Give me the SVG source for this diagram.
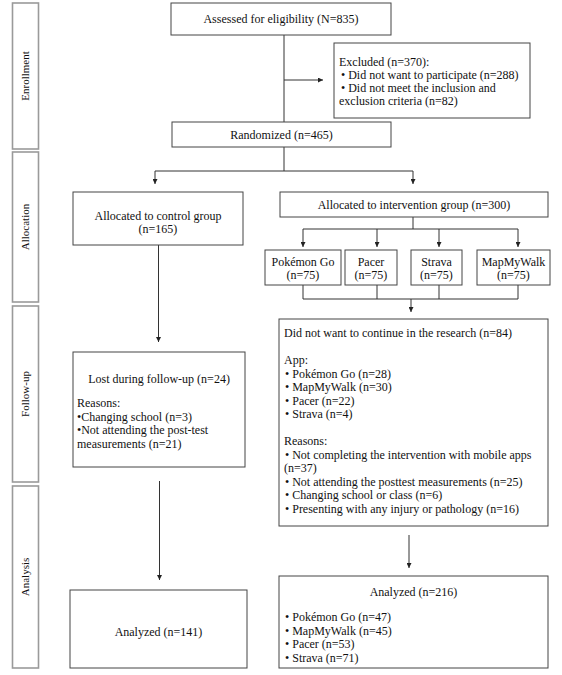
<svg xmlns="http://www.w3.org/2000/svg" width="562" height="675" viewBox="0 0 562 675">
<defs>
<marker id="ah" markerUnits="userSpaceOnUse" markerWidth="6" markerHeight="5" refX="5" refY="2.5" orient="auto">
<path d="M0,0 L5,2.5 L0,5 z" fill="#222"/>
</marker>
<style>
.box{fill:#fff;stroke:#444;stroke-width:1}
.side{fill:#fff;stroke:#9a9a9a;stroke-width:1.6}
.t{font-family:"Liberation Serif","Times New Roman",serif;font-size:12px;fill:#111}
.c{text-anchor:middle}
.s{font-family:"Liberation Serif","Times New Roman",serif;font-size:11px;fill:#111;text-anchor:middle}
.ln{fill:none;stroke:#333;stroke-width:1}
.ar{fill:none;stroke:#333;stroke-width:1;marker-end:url(#ah)}
</style>
</defs>
<rect width="562" height="675" fill="#fff"/>

<g id="stage-enrollment"><rect class="side" x="12.5" y="3" width="26" height="146"/><text class="s" transform="translate(29,76) rotate(-90)">Enrollment</text></g>
<g id="stage-allocation"><rect class="side" x="12.5" y="152" width="26" height="150"/><text class="s" transform="translate(29,227) rotate(-90)">Allocation</text></g>
<g id="stage-followup"><rect class="side" x="12.5" y="306" width="26" height="176"/><text class="s" transform="translate(29,394) rotate(-90)">Follow-up</text></g>
<g id="stage-analysis"><rect class="side" x="12.5" y="486" width="26" height="182"/><text class="s" transform="translate(29,577) rotate(-90)">Analysis</text></g>

<g id="connectors">
<path class="ln" d="M284,35 V122"/>
<path class="ar" d="M284,80 H323"/>
<path class="ln" d="M284,147 V171 M155,171 H413"/>
<path class="ar" d="M155,171 V184"/>
<path class="ar" d="M413,171 V184"/>
<path class="ln" d="M413,217 V229 M303,229 H518"/>
<path class="ar" d="M303,229 V247"/>
<path class="ar" d="M377,229 V247"/>
<path class="ar" d="M439,229 V247"/>
<path class="ar" d="M518,229 V247"/>
<path class="ln" d="M303,285 V299 M377,285 V299 M439,285 V299 M518,285 V299 M303,299 H518"/>
<path class="ar" d="M411,299 V312"/>
<path class="ar" d="M158.5,245 V342"/>
<path class="ar" d="M159.5,481 V580"/>
<path class="ar" d="M409,535 V568"/>
</g>

<g id="assessed"><rect class="box" x="171" y="3" width="220" height="32"/><text class="t c" x="281" y="23">Assessed for eligibility (N=835)</text></g>

<g id="excluded"><rect class="box" x="334" y="43" width="196" height="75"/>
<text class="t" x="339" y="65.5">Excluded (n=370):</text>
<text class="t" x="341" y="78.5">• Did not want to participate (n=288)</text>
<text class="t" x="341" y="91.5">• Did not meet the inclusion and</text>
<text class="t" x="339" y="104.5">exclusion criteria (n=82)</text></g>

<g id="randomized"><rect class="box" x="172" y="122" width="219" height="25"/><text class="t c" x="281.5" y="139">Randomized (n=465)</text></g>

<g id="control"><rect class="box" x="73" y="192" width="170" height="53"/>
<text class="t c" x="158" y="220">Allocated to control group</text>
<text class="t c" x="158" y="233">(n=165)</text></g>

<g id="intervention"><rect class="box" x="280" y="192" width="268" height="25"/><text class="t c" x="414" y="208.5">Allocated to intervention group (n=300)</text></g>

<g id="pokemon"><rect class="box" x="265" y="250" width="76" height="35"/><text class="t c" x="303" y="265.5">Pokémon Go</text><text class="t c" x="303" y="278.5">(n=75)</text></g>
<g id="pacer"><rect class="box" x="345" y="250" width="52" height="35"/><text class="t c" x="371" y="265.5">Pacer</text><text class="t c" x="371" y="278.5">(n=75)</text></g>
<g id="strava"><rect class="box" x="411" y="250" width="51" height="35"/><text class="t c" x="436.5" y="265.5">Strava</text><text class="t c" x="436.5" y="278.5">(n=75)</text></g>
<g id="mapmywalk"><rect class="box" x="477" y="250" width="73" height="35"/><text class="t c" x="513.5" y="265.5">MapMyWalk</text><text class="t c" x="513.5" y="278.5">(n=75)</text></g>

<g id="lost"><rect class="box" x="73" y="352" width="172" height="115"/>
<text class="t c" x="159" y="383">Lost during follow-up (n=24)</text>
<text class="t" x="77" y="407">Reasons:</text>
<text class="t" x="77" y="420.5">•Changing school (n=3)</text>
<text class="t" x="77" y="434">•Not attending the post-test</text>
<text class="t" x="77" y="447.5">measurements (n=21)</text></g>

<g id="discontinued"><rect class="box" x="279" y="319" width="269" height="207"/>
<text class="t" x="284" y="337">Did not want to continue in the research (n=84)</text>
<text class="t" x="284" y="364">App:</text>
<text class="t" x="285" y="377.5">• Pokémon Go (n=28)</text>
<text class="t" x="285" y="391">• MapMyWalk (n=30)</text>
<text class="t" x="285" y="404.5">• Pacer (n=22)</text>
<text class="t" x="285" y="418">• Strava (n=4)</text>
<text class="t" x="284" y="445">Reasons:</text>
<text class="t" x="285" y="458.5">• Not completing the intervention with mobile apps</text>
<text class="t" x="284" y="472">(n=37)</text>
<text class="t" x="285" y="485.5">• Not attending the posttest measurements (n=25)</text>
<text class="t" x="285" y="499">• Changing school or class (n=6)</text>
<text class="t" x="285" y="512.5">• Presenting with any injury or pathology (n=16)</text></g>

<g id="analyzed-control"><rect class="box" x="70" y="590" width="177" height="78"/><text class="t c" x="158.5" y="636">Analyzed (n=141)</text></g>

<g id="analyzed-intervention"><rect class="box" x="279" y="576" width="269" height="92"/>
<text class="t c" x="413.5" y="596">Analyzed (n=216)</text>
<text class="t" x="285" y="621">• Pokémon Go (n=47)</text>
<text class="t" x="285" y="634.5">• MapMyWalk (n=45)</text>
<text class="t" x="285" y="648">• Pacer (n=53)</text>
<text class="t" x="285" y="661.5">• Strava (n=71)</text></g>
</svg>
